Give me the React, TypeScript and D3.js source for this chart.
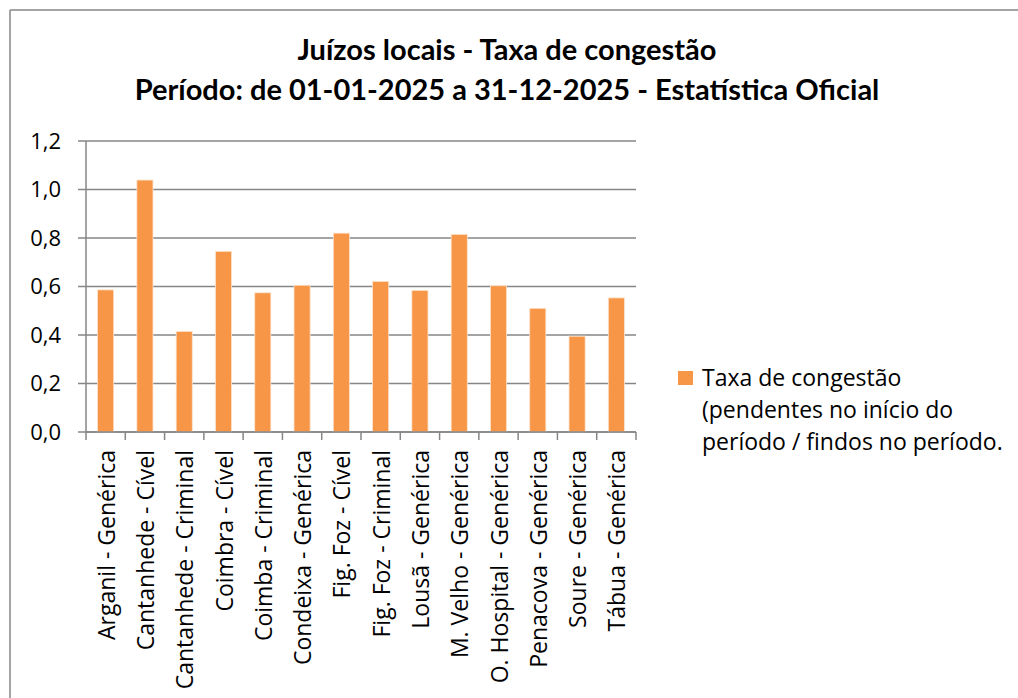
import React from "react";
import * as d3 from "d3";

const categories = [
  "Arganil - Genérica",
  "Cantanhede - Cível",
  "Cantanhede - Criminal",
  "Coimbra - Cível",
  "Coimba - Criminal",
  "Condeixa - Genérica",
  "Fig. Foz - Cível",
  "Fig. Foz - Criminal",
  "Lousã - Genérica",
  "M. Velho - Genérica",
  "O. Hospital - Genérica",
  "Penacova - Genérica",
  "Soure - Genérica",
  "Tábua - Genérica",
];
const values = [0.586, 1.039, 0.415, 0.745, 0.574, 0.605, 0.82, 0.621, 0.584, 0.815, 0.603, 0.51, 0.395, 0.553];
const yTicks = [0, 0.2, 0.4, 0.6, 0.8, 1.0, 1.2];
const titleLines = [
  "Juízos locais - Taxa de congestão",
  "Período: de 01-01-2025 a 31-12-2025 - Estatística Oficial",
];
const legendLines = [
  "Taxa de congestão",
  "(pendentes no início do",
  "período / findos no período.",
];

const W = 1018;
const H = 698;
const plot = { left: 86, right: 636, top: 141, bottom: 432 };
const TFONT = "Lato, 'Open Sans', sans-serif";
const FONT = "'Open Sans', Lato, sans-serif";
const GRID = "#868686";
const BAR = "#F79646";

export default function App() {
  const x = d3.scaleBand<string>().domain(categories).range([plot.left, plot.right]).paddingInner(0.59).paddingOuter(0.295);
  const xb = d3.scaleBand<string>().domain(categories).range([plot.left, plot.right]).padding(0);
  const y = d3.scaleLinear().domain([0, 1.2]).range([plot.bottom, plot.top]);
  const fmt = (v: number) => d3.format(".1f")(v).replace(".", ",");
  const tickXs = [...categories.map((c) => xb(c) as number), plot.right];

  return (
    <div style={{ position: "absolute", left: 0, top: 0, width: W, height: H, background: "#fff" }}>
      <svg width={W} height={H} style={{ display: "block" }}>
        <rect x={0} y={0} width={W} height={H} fill="#fff" />
        <line x1={10} y1={10} x2={W} y2={10} stroke={GRID} strokeWidth={1.5} />
        <line x1={10} y1={10} x2={10} y2={H} stroke={GRID} strokeWidth={1.5} />
        {titleLines.map((t, i) => (
          <text key={i} x={507} y={60 + i * 40} textAnchor="middle" fontFamily={TFONT} fontWeight="bold" fontSize={29} fill="#000">
            {t}
          </text>
        ))}
        {yTicks.map((t) => (
          <g key={t}>
            <line x1={plot.left - 8} x2={plot.right} y1={y(t)} y2={y(t)} stroke={GRID} strokeWidth={1.5} />
            <text x={61} y={y(t)} dy="0.36em" textAnchor="end" fontFamily={FONT} fontSize={22} fill="#000">
              {fmt(t)}
            </text>
          </g>
        ))}
        <line x1={plot.left} x2={plot.left} y1={plot.top} y2={plot.bottom} stroke={GRID} strokeWidth={1.5} />
        {categories.map((c, i) => (
          <rect key={c} x={x(c)} y={y(values[i])} width={x.bandwidth()} height={plot.bottom - y(values[i])} fill={BAR} stroke="#fde3cc" strokeWidth={0.8} />
        ))}
        <line x1={plot.left} x2={plot.right} y1={plot.bottom} y2={plot.bottom} stroke={GRID} strokeWidth={1.5} />
        {tickXs.map((tx, i) => (
          <line key={i} x1={tx} x2={tx} y1={plot.bottom} y2={plot.bottom + 8} stroke={GRID} strokeWidth={1.5} />
        ))}
        {categories.map((c) => {
          const cx = (xb(c) as number) + xb.bandwidth() / 2;
          return (
            <text key={c} transform={`translate(${cx + 9},${plot.bottom + 18}) rotate(-90)`} textAnchor="end" fontFamily={FONT} fontSize={23} fill="#000">
              {c}
            </text>
          );
        })}
        <rect x={678} y={371} width={15} height={14} fill={BAR} />
        {legendLines.map((t, i) => (
          <text key={i} x={702} y={386 + i * 32} fontFamily={FONT} fontSize={23} fill="#000">
            {t}
          </text>
        ))}
      </svg>
    </div>
  );
}
